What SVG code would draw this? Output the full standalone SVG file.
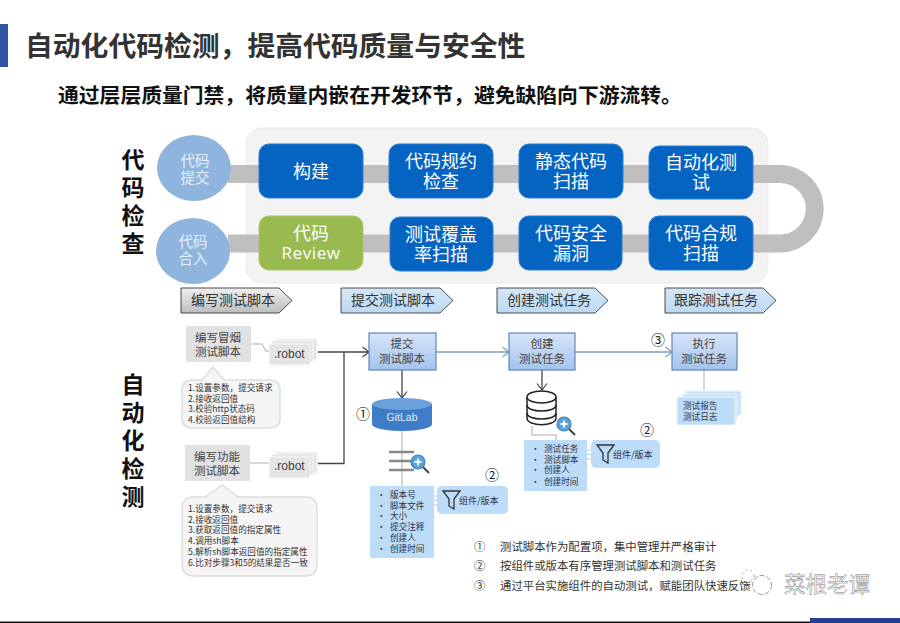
<svg xmlns="http://www.w3.org/2000/svg" width="900" height="623" viewBox="0 0 900 623">
<style>
text{font-family:"Noto Sans CJK SC","Liberation Sans",sans-serif}
.t{text-anchor:middle}
.w{fill:#fff;font-size:18px;text-anchor:middle}
.c{fill:#e8f0fa;font-size:14.5px;text-anchor:middle}
.n{fill:#0563c1;stroke:#2a7ed0;stroke-width:1}
.side{font-size:23px;font-weight:700;fill:#111;text-anchor:middle}
.tag{stroke:#4a4a4a;stroke-width:1}
.tl{font-size:14px;fill:#333;text-anchor:middle}
.box{fill:url(#bg);stroke:#5f87b7;stroke-width:1.2}
.bt{font-size:11.5px;fill:#444;text-anchor:middle}
.g{fill:#e1e1e1}
.call{fill:#f5f5f5;stroke:#dedede;stroke-width:1.5}
.s{font-size:8.6px;fill:#333}
.li{fill:#bcdcf7}
.lt{font-size:8.6px;fill:#334}
.num{font-size:14px;fill:#222;text-anchor:middle}
.lg{font-size:11.4px;fill:#333}
.paper{fill:#e4e4e4;stroke:#f7f7f7;stroke-width:1}
.rb{font-size:12px;fill:#444;font-family:"Liberation Sans",sans-serif}
.gl{fill:none;stroke:#c8c8c8;stroke-width:1.5}
.ar{fill:none;stroke:#444;stroke-width:1.3}
.ab{fill:none;stroke:#7d9cc0;stroke-width:1.3}
</style>
<defs>
<linearGradient id="bg" x1="0" y1="0" x2="0" y2="1"><stop offset="0" stop-color="#d6e5f8"/><stop offset="1" stop-color="#a3c3ee"/></linearGradient>
<linearGradient id="gt" x1="0" y1="0" x2="0" y2="1"><stop offset="0" stop-color="#f0f0f0"/><stop offset="1" stop-color="#bdbdbd"/></linearGradient>
<linearGradient id="bt" x1="0" y1="0" x2="0" y2="1"><stop offset="0" stop-color="#d4e6f7"/><stop offset="1" stop-color="#bcd9f3"/></linearGradient>
<marker id="mk" markerWidth="9" markerHeight="12" refX="7.500" refY="6" orient="auto" markerUnits="userSpaceOnUse"><path d="M1 1L7.500 6L1 11" fill="none" stroke="#444" stroke-width="1.2"/></marker>
<marker id="mb" markerWidth="9" markerHeight="12" refX="7.500" refY="6" orient="auto" markerUnits="userSpaceOnUse"><path d="M1 1L7.500 6L1 11" fill="none" stroke="#7d9cc0" stroke-width="1.2"/></marker>
<g id="mag"><path d="M4 4L11 11" stroke="#444" stroke-width="2"/><circle r="7" fill="#5ba3d9" stroke="#3f7fb5" stroke-width="1.2"/><path d="M-3.500 0H3.500M0 -3.500V3.500" stroke="#fff" stroke-width="1.8"/></g>
<g id="fun"><path d="M0 0H17L11 8V18L6 15V8Z" fill="none" stroke="#333" stroke-width="1.3"/></g>
</defs>
<rect width="900" height="623" fill="#fff"/>

<g id="header">
<rect x="0" y="24" width="8" height="43" fill="#2f55a5"/>
<text x="25" y="56" font-size="27.8" font-weight="700" fill="#333">自动化代码检测，提高代码质量与安全性</text>
<text x="58" y="103" font-size="20.8" font-weight="700" fill="#111">通过层层质量门禁，将质量内嵌在开发环节，避免缺陷向下游流转。</text>
</g>

<g id="panel"><rect x="246" y="128" width="522" height="155" rx="16" fill="#f3f3f3" stroke="#ececec"/></g>

<g id="connectors">
<path d="M228 174H780A34.700 34.700 0 0 1 780 243.500H228" fill="none" stroke="#bfbfbf" stroke-width="18"/>
<path class="ar" d="M318 352H369" marker-end="url(#mk)"/>
<path class="ar" d="M318 463.500H344V352"/>
<path class="ab" d="M436 352H509" marker-end="url(#mb)"/>
<path class="ab" d="M575 352H672" marker-end="url(#mb)"/>
<path class="ar" d="M402 370V398" marker-end="url(#mk)"/>
<path class="ar" d="M542 370V390" marker-end="url(#mk)"/>
<path class="gl" d="M402 431V486"/>
<path class="gl" d="M704 370V391"/>
<path class="gl" d="M251 344H262L266 351H270"/>
<path class="gl" d="M250 463H270"/>
<path class="gl" d="M532 426V435H556V440"/>
<path d="M428 496H441V505H428ZM428 500.500H441" fill="none" stroke="#b9cde0" stroke-width="1.2"/>
<path d="M581 450H593V459H581ZM581 454.500H593" fill="none" stroke="#b9cde0" stroke-width="1.2"/>
</g>

<text class="side"><tspan x="133" y="168">代</tspan><tspan x="133" y="196">码</tspan><tspan x="133" y="224">检</tspan><tspan x="133" y="252">查</tspan></text>
<text class="side"><tspan x="133" y="393">自</tspan><tspan x="133" y="421">动</tspan><tspan x="133" y="449">化</tspan><tspan x="133" y="477">检</tspan><tspan x="133" y="505">测</tspan></text>

<g id="c1"><ellipse cx="194" cy="168" rx="37" ry="33" fill="#8fb5de"/><text class="c"><tspan x="195" y="166">代码</tspan><tspan x="195" y="183">提交</tspan></text></g>
<g id="c2"><ellipse cx="193" cy="251" rx="37" ry="33" fill="#8fb5de"/><text class="c"><tspan x="193" y="247">代码</tspan><tspan x="193" y="264">合入</tspan></text></g>

<g id="n1"><rect class="n" x="259" y="144" width="104" height="54" rx="10"/><text class="w" x="311" y="178">构建</text></g>
<g id="n2"><rect class="n" x="389" y="144" width="104" height="54" rx="10"/><text class="w"><tspan x="441" y="168">代码规约</tspan><tspan x="441" y="188">检查</tspan></text></g>
<g id="n3"><rect class="n" x="519" y="144" width="104" height="54" rx="10"/><text class="w"><tspan x="571" y="168">静态代码</tspan><tspan x="571" y="188">扫描</tspan></text></g>
<g id="n4"><rect class="n" x="649" y="146" width="104" height="53" rx="10"/><text class="w"><tspan x="701" y="169">自动化测</tspan><tspan x="701" y="189">试</tspan></text></g>
<g id="n5"><rect x="259" y="216" width="104" height="54" rx="10" fill="#98ba4f" stroke="#a9c766"/><text class="w"><tspan x="311" y="240">代码</tspan><tspan x="311" y="259" font-size="17" style="font-family:'Open Sans','Liberation Sans',sans-serif;letter-spacing:.6px">Review</tspan></text></g>
<g id="n6"><rect class="n" x="390" y="217" width="103" height="54" rx="10"/><text class="w"><tspan x="441" y="241">测试覆盖</tspan><tspan x="441" y="261">率扫描</tspan></text></g>
<g id="n7"><rect class="n" x="519" y="216" width="103" height="54" rx="10"/><text class="w"><tspan x="571" y="240">代码安全</tspan><tspan x="571" y="260">漏洞</tspan></text></g>
<g id="n8"><rect class="n" x="649" y="216" width="104" height="54" rx="10"/><text class="w"><tspan x="701" y="240">代码合规</tspan><tspan x="701" y="260">扫描</tspan></text></g>

<g id="tag1"><path class="tag" d="M181 288H279L292 300.500L279 313H181Z" fill="url(#gt)"/><text class="tl" x="233" y="305">编写测试脚本</text></g>
<g id="tag2"><path class="tag" d="M341 288H440L453 300.500L440 313H341Z" fill="url(#bt)"/><text class="tl" x="393" y="305">提交测试脚本</text></g>
<g id="tag3"><path class="tag" d="M497 288H595L608 300.500L595 313H497Z" fill="url(#bt)"/><text class="tl" x="549" y="305">创建测试任务</text></g>
<g id="tag4"><path class="tag" d="M665 288H763L776 300.500L763 313H665Z" fill="url(#bt)"/><text class="tl" x="716" y="305">跟踪测试任务</text></g>

<g id="s1"><rect class="g" x="186" y="326" width="65" height="36"/><text class="bt"><tspan x="218" y="342">编写冒烟</tspan><tspan x="218" y="356">测试脚本</tspan></text></g>
<g id="r1"><rect class="paper" x="276" y="339" width="41" height="21"/><rect class="paper" x="272" y="341" width="41" height="21"/><rect class="paper" x="269" y="344" width="41" height="21"/><text class="rb" x="274" y="358">.robot</text></g>
<g id="m1"><path class="call" d="M192 380H202L213 367L224 380H270Q280 380 280 390V418Q280 428 270 428H192Q182 428 182 418V390Q182 380 192 380Z"/>
<text class="s"><tspan x="188" y="391">1.设置参数，提交请求</tspan><tspan x="188" y="402">2.接收返回值</tspan><tspan x="188" y="412">3.校验http状态码</tspan><tspan x="188" y="423">4.校验返回值结构</tspan></text></g>

<g id="s2"><rect class="g" x="185" y="445" width="65" height="36"/><text class="bt"><tspan x="217" y="461">编写功能</tspan><tspan x="217" y="475">测试脚本</tspan></text></g>
<g id="r2"><rect class="paper" x="276" y="452" width="41" height="21"/><rect class="paper" x="272" y="454" width="41" height="21"/><rect class="paper" x="269" y="457" width="41" height="21"/><text class="rb" x="274" y="470">.robot</text></g>
<g id="m2"><path class="call" d="M194 497H205L222 485L238 497H305Q317 497 317 509V564Q317 576 305 576H194Q182 576 182 564V509Q182 497 194 497Z"/>
<text class="s"><tspan x="188" y="512">1.设置参数，提交请求</tspan><tspan x="188" y="523">2.接收返回值</tspan><tspan x="188" y="533">3.获取返回值的指定属性</tspan><tspan x="188" y="544">4.调用sh脚本</tspan><tspan x="188" y="555">5.解析sh脚本返回值的指定属性</tspan><tspan x="188" y="566">6.比对步骤3和5的结果是否一致</tspan></text></g>

<g id="b1"><rect class="box" x="369" y="333" width="67" height="37"/><text class="bt"><tspan x="402" y="348">提交</tspan><tspan x="402" y="363">测试脚本</tspan></text></g>
<g id="b2"><rect class="box" x="509" y="333" width="66" height="37"/><text class="bt"><tspan x="542" y="348">创建</tspan><tspan x="542" y="363">测试任务</tspan></text></g>
<g id="b3"><rect class="box" x="672" y="333" width="65" height="37"/><text class="bt"><tspan x="704" y="348">执行</tspan><tspan x="704" y="363">测试任务</tspan></text></g>

<g id="gitlab"><path d="M372 404V424C372 428 386 431 402 431S432 428 432 424V404Z" fill="#3f7cc6"/><ellipse cx="402" cy="404" rx="30" ry="6" fill="#6aa0dc"/><text x="402" y="421" font-size="10.500" fill="#e4eefa" class="t" style="font-family:'Liberation Sans',sans-serif">GitLab</text></g>
<text class="num" x="363" y="419">①</text>

<g id="listicon"><path d="M389 452H414M389 461H411M389 470H414" stroke="#888" stroke-width="2.500"/><use href="#mag" x="418" y="462"/></g>

<g id="l1"><rect class="li" x="370" y="486" width="64" height="72"/>
<text class="lt"><tspan x="377" y="498">•</tspan><tspan x="390" y="498">版本号</tspan><tspan x="377" y="509">•</tspan><tspan x="390" y="509">脚本文件</tspan><tspan x="377" y="519">•</tspan><tspan x="390" y="519">大小</tspan><tspan x="377" y="530">•</tspan><tspan x="390" y="530">提交注释</tspan><tspan x="377" y="541">•</tspan><tspan x="390" y="541">创建人</tspan><tspan x="377" y="552">•</tspan><tspan x="390" y="552">创建时间</tspan></text></g>
<g id="f1"><rect class="li" x="437" y="486" width="71" height="28" rx="5"/><use href="#fun" x="443" y="491"/><text x="459" y="504" font-size="9" fill="#334">组件/版本</text></g>
<text class="num" x="492" y="480">②</text>

<g id="db"><path d="M527 397V418C527 427 556 427 556 418V397" fill="#fff" stroke="#222" stroke-width="1.500"/><ellipse cx="541.500" cy="397" rx="14.500" ry="6" fill="#fff" stroke="#222" stroke-width="1.500"/><path d="M527 405C527 413 556 413 556 405M527 413C527 421 556 421 556 413" fill="none" stroke="#222" stroke-width="1.500"/><use href="#mag" x="564" y="424"/></g>

<g id="l2"><rect class="li" x="524" y="440" width="63" height="51"/>
<text class="lt"><tspan x="531" y="452">•</tspan><tspan x="544" y="452">测试任务</tspan><tspan x="531" y="463">•</tspan><tspan x="544" y="463">测试脚本</tspan><tspan x="531" y="473">•</tspan><tspan x="544" y="473">创建人</tspan><tspan x="531" y="485">•</tspan><tspan x="544" y="485">创建时间</tspan></text></g>
<g id="f2"><rect class="li" x="591" y="440" width="69" height="28" rx="5"/><use href="#fun" x="597" y="445"/><text x="613" y="458" font-size="9" fill="#334">组件/版本</text></g>
<text class="num" x="647" y="435">②</text>
<text class="num" x="658" y="345">③</text>

<g id="report"><rect x="686" y="391" width="55" height="24" fill="#c6e0f6" stroke="#eef6fc"/><rect x="682" y="394" width="55" height="26" fill="#c6e0f6" stroke="#eef6fc"/><rect x="677" y="397" width="58" height="28" fill="#bcdcf7" stroke="#eef6fc"/><text class="lt"><tspan x="683" y="409">测试报告</tspan><tspan x="683" y="420">测试日志</tspan></text></g>

<g id="legend">
<text class="lg" x="474" y="551">①</text><text class="lg" x="500" y="551">测试脚本作为配置项，集中管理并严格审计</text>
<text class="lg" x="474" y="570">②</text><text class="lg" x="500" y="570">按组件或版本有序管理测试脚本和测试任务</text>
<text class="lg" x="474" y="590">③</text><text class="lg" x="500" y="590">通过平台实施组件的自动测试，赋能团队快速反馈</text>
</g>

<g id="mark"><circle cx="762" cy="585" r="9.500" fill="#fff" stroke="#999" stroke-width="1" stroke-dasharray="5 2"/><circle cx="748" cy="576" r="6" fill="#fff" stroke="#aaa" stroke-dasharray="2 3"/><text x="784" y="592" font-size="21.500" fill="#fff" stroke="#777" stroke-width=".45">菜根老谭</text></g>

<rect x="0" y="621.500" width="900" height="1.500" fill="#111"/>
<rect x="810" y="618" width="90" height="5" fill="#25408f"/>
</svg>
